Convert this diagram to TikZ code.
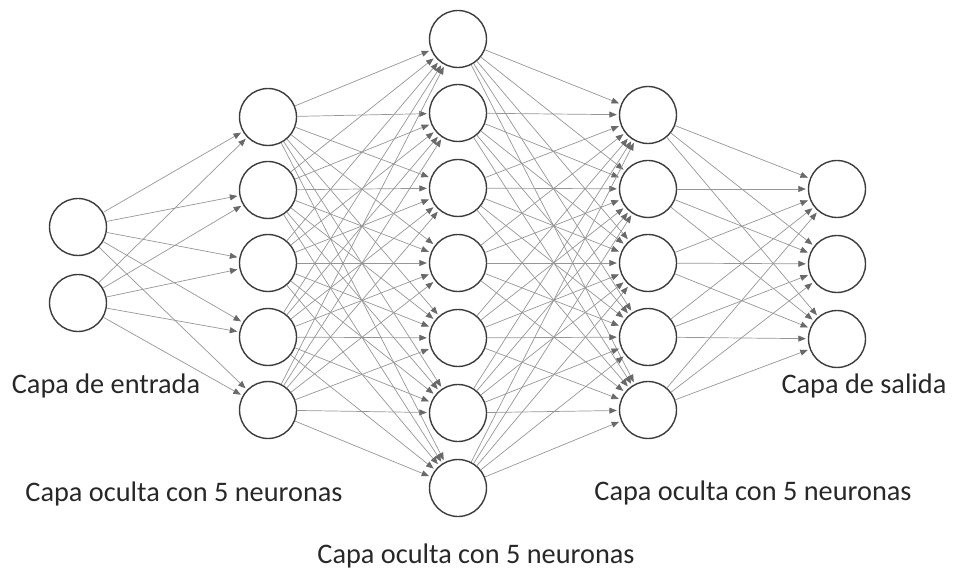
\documentclass[tikz,border=0pt]{standalone}
\usepackage{fontspec}
\setmainfont{Carlito}
\usepackage{tikz}
\usetikzlibrary{positioning,arrows.meta}

\definecolor{ringgray}{RGB}{60,60,60}
\definecolor{edgegray}{RGB}{150,150,150}
\definecolor{tipgray}{RGB}{105,105,105}
\definecolor{labelgray}{RGB}{40,40,40}

\tikzset{
  neuron/.style={circle, draw=ringgray, line width=1.4pt, fill=white,
                 minimum size=57pt, inner sep=0pt},
  synapse/.style={draw=edgegray, line width=0.7pt, shorten >=2pt,
                  -{Triangle[length=7.5pt,width=6pt,color=tipgray]}},
  caption/.style={text=labelgray, font=\fontsize{28.3}{32}\selectfont}
}

\begin{document}
\begin{tikzpicture}[x=1pt,y=-1pt]
  \useasboundingbox (0,0) rectangle (953,577);

  % capa de entrada
  \node[neuron] (e1) at (78,227) {};
  \node[neuron] (e2) at (78,303) {};

  % primera capa oculta
  \foreach \i/\y in {1/117,2/190,3/263,4/337,5/410}
    \node[neuron] (a\i) at (268,\y) {};

  % segunda capa oculta
  \foreach \i/\y in {1/39,2/113,3/188,4/263,5/338,6/413,7/488}
    \node[neuron] (b\i) at (458,\y) {};

  % tercera capa oculta
  \foreach \i/\y in {1/115,2/189,3/263,4/337,5/410}
    \node[neuron] (c\i) at (648,\y) {};

  % capa de salida
  \foreach \i/\y in {1/189,2/264,3/339}
    \node[neuron] (s\i) at (837,\y) {};

  % conexiones
  \foreach \i in {1,2}
    \foreach \j in {1,...,5}
      \draw[synapse] (e\i) -- (a\j);
  \foreach \i in {1,...,5}
    \foreach \j in {1,...,7}
      \draw[synapse] (a\i) -- (b\j);
  \foreach \i in {1,...,7}
    \foreach \j in {1,...,5}
      \draw[synapse] (b\i) -- (c\j);
  \foreach \i in {1,...,5}
    \foreach \j in {1,...,3}
      \draw[synapse] (c\i) -- (s\j);

  % etiquetas
  \node[caption] (entrada) at (106,386) {Capa de entrada};
  \node[caption] (oculta1) at (184,494) {Capa oculta con 5 neuronas};
  \node[caption] (oculta2) at (476,556) {Capa oculta con 5 neuronas};
  \node[caption] (oculta3) at (753,493) {Capa oculta con 5 neuronas};
  \node[caption] (salida) at (864,386) {Capa de salida};
\end{tikzpicture}
\end{document}
